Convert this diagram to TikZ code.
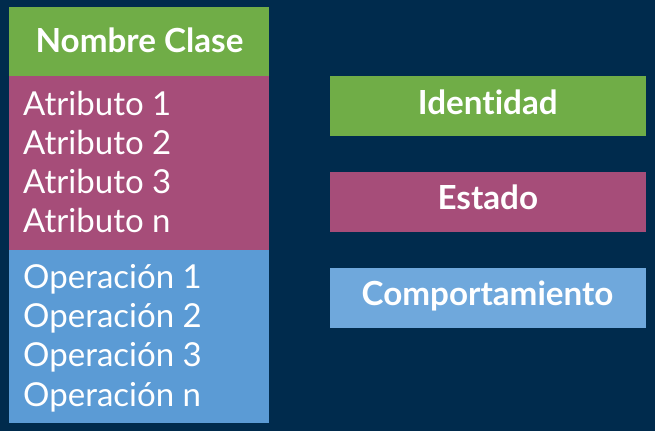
\documentclass[tikz,border=0pt]{standalone}
\usepackage{fontspec}
\setmainfont{Lato}[Ligatures={NoCommon,TeX}]
\definecolor{bgnavy}{HTML}{002B4D}
\definecolor{cgreen}{HTML}{70AD47}
\definecolor{cmag}{HTML}{A64D79}
\definecolor{cblue}{HTML}{5B9BD5}
\definecolor{cblue2}{HTML}{6FA8DC}
\begin{document}
\begin{tikzpicture}[x=1pt,y=-1pt,
  lbl/.style={text=white,anchor=base,inner sep=0pt,font=\fontsize{33.2}{40}\selectfont\bfseries},
  item/.style={text=white,anchor=base west,inner sep=0pt,font=\fontsize{33}{39}\selectfont}]
\fill[bgnavy] (0,0) rectangle (655,431);
\useasboundingbox (0,0) rectangle (655,431);
% left class box
\fill[cgreen] (9,7) rectangle (269,76);
\fill[cmag] (9,76) rectangle (269,250);
\fill[cblue] (9,250) rectangle (269,423);
\node[lbl] (nombre) at (139.5,52.7) {Nombre Clase};
\node[item] (a1) at (23,115) {Atributo 1};
\node[item] (a2) at (23,154.3) {Atributo 2};
\node[item] (a3) at (23,193.4) {Atributo 3};
\node[item] (an) at (23,232.4) {Atributo n};
\node[item] (o1) at (23,288.3) {Operación 1};
\node[item] (o2) at (23,327.6) {Operación 2};
\node[item] (o3) at (23,366.7) {Operación 3};
\node[item] (on) at (23,406) {Operación n};
% right legend
\fill[cgreen] (330,76) rectangle (646,136);
\fill[cmag] (330,172) rectangle (646,232);
\fill[cblue2] (330,268) rectangle (646,328);
\node[lbl] (ident) at (487.8,114.3) {Identidad};
\node[lbl] (estado) at (487.8,209.3) {Estado};
\node[lbl] (comp) at (487.5,305) {Comportamiento};
\end{tikzpicture}
\end{document}
